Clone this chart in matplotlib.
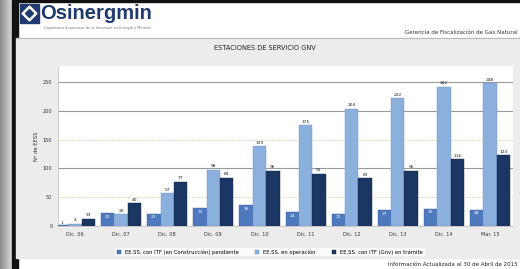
import numpy as np
import matplotlib
matplotlib.use("Agg")
import matplotlib.pyplot as plt
from matplotlib.patches import Rectangle, Polygon

W, H = 520, 269

categories = ["Dic. 06", "Dic. 07", "Dic. 08", "Dic. 09", "Dic. 10",
              "Dic. 11", "Dic. 12", "Dic. 13", "Dic. 14", "Mar. 15"]
en_construccion = [1, 22, 21, 31, 36, 24, 21, 27, 30, 28]
en_operacion = [4, 20, 57, 98, 139, 175, 204, 222, 242, 248]
en_tramite = [13, 40, 77, 84, 96, 91, 83, 96, 116, 123]
series_names = ["EE.SS. con ITF (en Construcción) pendiente",
                "EE.SS. en operación",
                "EE.SS. con ITF (Gnv) en trámite"]
y_ticks = [0, 50, 100, 150, 200, 250]

c_mid = "#4f79bd"
c_light = "#8cb0de"
c_dark = "#1c3663"


def px(x0, y0, x1, y1):
    return [x0 / W, 1 - y1 / H, (x1 - x0) / W, (y1 - y0) / H]


fig = plt.figure(figsize=(W / 100, H / 100), dpi=100)
fig.patch.set_facecolor("white")

# slide background, drawn in pixel coordinates
bg = fig.add_axes([0, 0, 1, 1])
bg.set_xlim(0, W)
bg.set_ylim(H, 0)
bg.axis("off")

grad = np.linspace(0.55, 0.85, 50).reshape(1, -1)
bg.imshow(grad, cmap="gray", vmin=0, vmax=1, extent=[0, 12, H, 0], aspect="auto")
bg.add_patch(Rectangle((12, 0), 6, H, color="#111111"))
bg.add_patch(Rectangle((18, 0), W - 18, 2, color="#111111"))
bg.add_patch(Rectangle((16, 38), W - 16, 220, color="#ececec"))
bg.plot([16, W], [37.5, 37.5], color="#b8b8b8", lw=0.8)

# logo
bg.add_patch(Rectangle((20, 4), 19, 19, color="#1f3a6e"))
bg.add_patch(Polygon([[29.5, 6], [37, 13.5], [29.5, 21], [22, 13.5]], color="white"))
bg.add_patch(Polygon([[29.5, 9.5], [33.5, 13.5], [29.5, 17.5], [25.5, 13.5]],
                     color="#1f3a6e"))
bg.text(40, 13.5, "Osinergmin", fontsize=14.5, fontweight="bold", color="#1f3a6e",
        va="center", ha="left", family="Liberation Sans")
bg.text(44, 28, "Organismo Supervisor de la Inversión en Energía y Minería",
        fontsize=2.6, color="#777777", va="center", ha="left")
bg.text(W - 2, 32, "Gerencia de Fiscalización de Gas Natural", fontsize=4.0,
        color="#333333", va="center", ha="right")
bg.text(265, 48, "ESTACIONES DE SERVICIO GNV", fontsize=4.8, color="#222222",
        va="center", ha="center")
bg.text(36, 146, "Nº de EESS", fontsize=3.8, color="#333333", rotation=90,
        va="center", ha="center")
bg.text(W - 2, 264, "Información Actualizada al 30 de Abril de 2015", fontsize=4.0,
        color="#222222", va="center", ha="right")

# chart
ax = fig.add_axes(px(58, 66, 513, 226))
ax.set_facecolor("white")
x = np.arange(len(categories))
bw = 0.29
b1 = ax.bar(x - bw, en_construccion, bw, color=c_mid, edgecolor="#3d62a0", lw=0.3, zorder=3)
b2 = ax.bar(x, en_operacion, bw, color=c_light, edgecolor="#6d95cc", lw=0.3, zorder=3)
b3 = ax.bar(x + bw, en_tramite, bw, color=c_dark, edgecolor="#14284a", lw=0.3, zorder=3)

for xi, v in zip(x, en_construccion):
    if v > 10:
        ax.text(xi - bw, v - 6, str(v), fontsize=3.2, color="white",
                ha="center", va="center", zorder=4)
    else:
        ax.text(xi - bw, v + 5, str(v), fontsize=3.2, color="#222222",
                ha="center", va="center", zorder=4)
for xi, v in zip(x, en_operacion):
    ax.text(xi, v + 6, str(v), fontsize=3.2, color="#222222",
            ha="center", va="center", zorder=4)
for xi, v in zip(x, en_tramite):
    ax.text(xi + bw, v + 6, str(v), fontsize=3.2, color="#222222",
            ha="center", va="center", zorder=4)

ax.set_xlim(-0.37, 9.5)
ax.set_ylim(0, 278)
ax.set_yticks(y_ticks)
ax.set_yticklabels([str(t) for t in y_ticks])
ax.set_xticks(x)
ax.set_xticklabels(categories)
ax.tick_params(axis="both", labelsize=3.6, length=0, pad=4, colors="#333333")
for t in y_ticks[1:]:
    if t in (50, 150):
        ax.axhline(t, color="#e2c690", lw=0.6, ls=(0, (2, 2)), zorder=1)
    else:
        ax.axhline(t, color="#9a9a9a", lw=0.8, zorder=1)
for s in ["top", "right"]:
    ax.spines[s].set_visible(False)
ax.spines["left"].set_color("#bbbbbb")
ax.spines["bottom"].set_color("#bbbbbb")
ax.spines["left"].set_linewidth(0.5)
ax.spines["bottom"].set_linewidth(0.5)

leg = fig.legend([b1, b2, b3], series_names, loc="center", ncol=3,
                 bbox_to_anchor=(270 / W, 1 - 252 / H), fontsize=3.8,
                 frameon=True, facecolor="white", edgecolor="white",
                 handlelength=0.8, handleheight=0.8, columnspacing=3,
                 borderpad=0.3, fancybox=False)
leg.get_frame().set_linewidth(0)

fig.savefig("out.png", dpi=100)
